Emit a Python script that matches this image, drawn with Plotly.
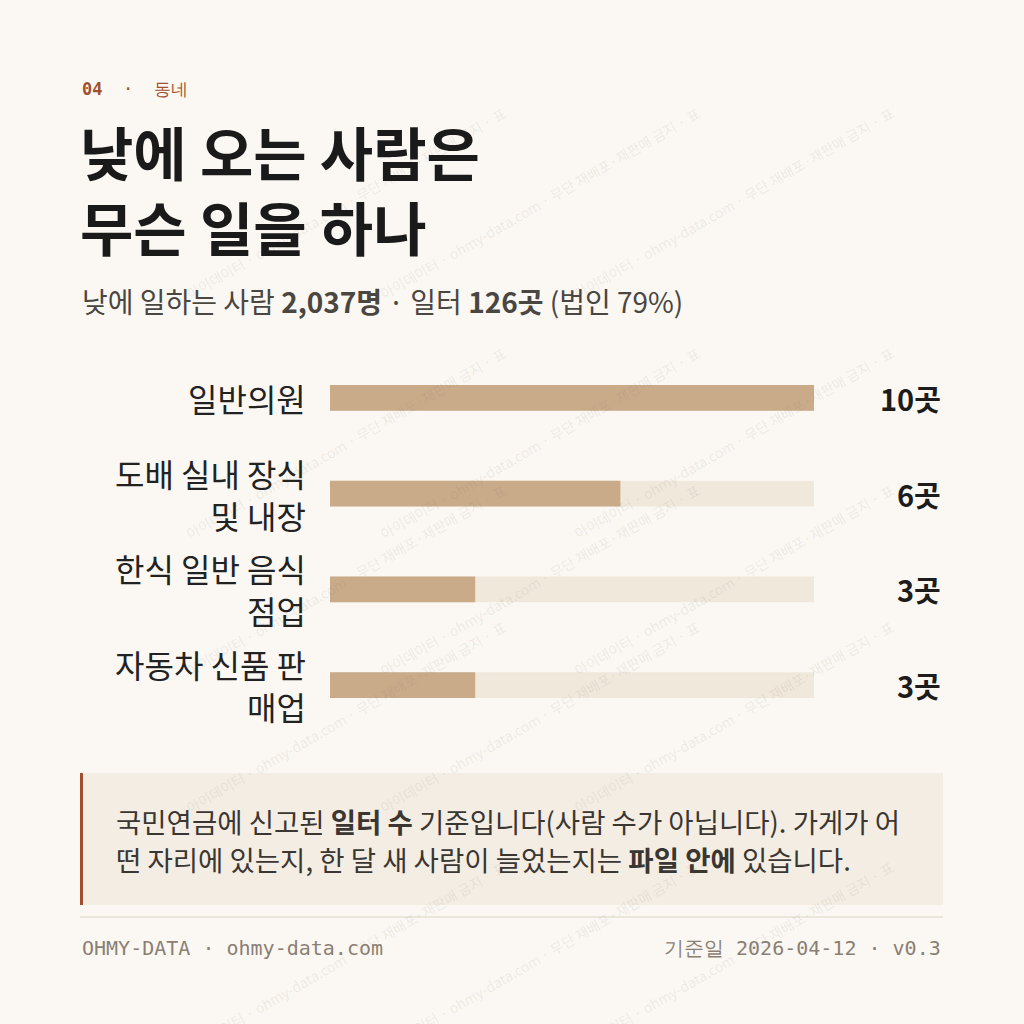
import plotly.graph_objects as go

categories = ["일반의원", "도배 실내 장식<br>및 내장", "한식 일반 음식<br>점업", "자동차 신품 판<br>매업"]
counts = [10, 6, 3, 3]
value_labels = ["10곳", "6곳", "3곳", "3곳"]
track_max = 10

W = 1024
KR = "Noto Sans CJK KR"
MONO = "DejaVu Sans Mono"
BG = "#fbf8f3"


def px(x):
    return x / W


def py(y):
    return 1 - y / W


fig = go.Figure()
fig.add_trace(go.Bar(y=categories, x=[track_max] * len(categories), orientation="h",
                     marker=dict(color="#f1e8dc", line_width=0), width=0.27, hoverinfo="skip"))
fig.add_trace(go.Bar(y=categories, x=counts, orientation="h",
                     marker=dict(color="#c9ab8a", line_width=0), width=0.27))

ann = []
# watermark
wm = "아이데이터 · ohmy-data.com · 무단 재배포·재판매 금지 · 표"
for row in range(0, 5):
    for col in range(0, 3):
        ann.append(dict(x=px(col * 360 + 180), y=py(row * 240 + 100), text=wm,
                        textangle=-30, showarrow=False, xref="paper", yref="paper",
                        font=dict(family=KR, size=14, color="rgba(120,110,100,0.12)")))

for i, c in enumerate(categories):
    ann.append(dict(x=px(308), y=i, xref="paper", yref="y", text=c, showarrow=False,
                    xanchor="right", align="right",
                    font=dict(family=KR, size=32, color="#222")))
    ann.append(dict(x=px(943), y=i, xref="paper", yref="y", text="<b>%s</b>" % value_labels[i],
                    showarrow=False, xanchor="right",
                    font=dict(family=KR, size=29, color="#1c1c1c")))

top = [
    dict(x=px(80), y=py(89), text="<b>04</b>  ·  동네", font=dict(family=MONO, size=17, color="#a0502f")),
    dict(x=px(78), y=py(188), text="<b>낮에 오는 사람은<br>무슨 일을 하나</b>",
         font=dict(family=KR, size=58, color="#1a1a1a"), align="left"),
    dict(x=px(80), y=py(301), text="낮에 일하는 사람 <b>2,037명</b> · 일터 <b>126곳</b> (법인 79%)",
         font=dict(family=KR, size=28, color="#4a4642")),
    dict(x=px(114), y=py(821),
         text="국민연금에 신고된 <b>일터 수</b> 기준입니다(사람 수가 아닙니다). 가게가 어",
         font=dict(family=KR, size=27.5, color="#3a3632")),
    dict(x=px(114), y=py(859),
         text="떤 자리에 있는지, 한 달 새 사람이 늘었는지는 <b>파일 안에</b> 있습니다.",
         font=dict(family=KR, size=27.5, color="#3a3632")),
    dict(x=px(80), y=py(948), text="OHMY-DATA · ohmy-data.com", font=dict(family=MONO, size=20, color="#8a7f74")),
    dict(x=px(943), y=py(948), text="기준일 2026-04-12 · v0.3", xanchor="right",
         font=dict(family=MONO, size=20, color="#8a7f74")),
]
for a in top:
    a.setdefault("xref", "paper")
    a.setdefault("yref", "paper")
    a.setdefault("showarrow", False)
    a.setdefault("xanchor", "left")
    a["yanchor"] = "middle"
ann += top

fig.update_layout(
    width=W, height=W, margin=dict(l=0, r=0, t=0, b=0),
    paper_bgcolor=BG, plot_bgcolor=BG, barmode="overlay", showlegend=False,
    xaxis=dict(domain=[px(330), px(814)], range=[0, track_max], visible=False),
    yaxis=dict(domain=[py(733), py(350)], autorange="reversed", visible=False),
    annotations=ann,
    shapes=[
        dict(type="rect", xref="paper", yref="paper", x0=px(80), x1=px(943), y0=py(905), y1=py(773),
             fillcolor="#f4ede3", line_width=0, layer="below"),
        dict(type="line", xref="paper", yref="paper", x0=px(81.5), x1=px(81.5), y0=py(905), y1=py(773),
             line=dict(color="#a0502f", width=3)),
        dict(type="line", xref="paper", yref="paper", x0=px(80), x1=px(943), y0=py(917), y1=py(917),
             line=dict(color="#e6e0d4", width=1.5)),
    ],
)
fig.write_html("out.html", config={"displayModeBar": False},
               post_script="document.body.style.margin='0';")
